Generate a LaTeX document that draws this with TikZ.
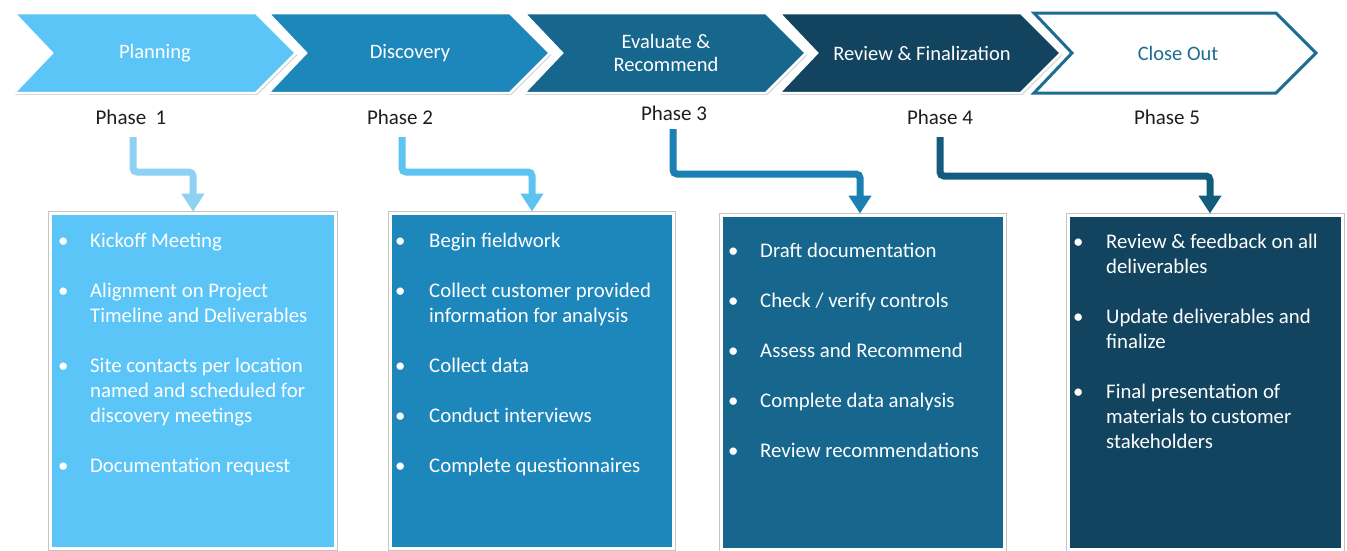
\documentclass[tikz,border=0pt]{standalone}
\usepackage{fontspec}
\setmainfont{Carlito}
\usetikzlibrary{arrows.meta}
\definecolor{c1}{HTML}{5BC5F8}
\definecolor{c2}{HTML}{1D87BC}
\definecolor{c3}{HTML}{16668D}
\definecolor{c4}{HTML}{124460}
\definecolor{c5}{HTML}{1E6C92}
\definecolor{a1}{HTML}{8ED2F3}
\definecolor{a2}{HTML}{5CC3F2}
\definecolor{a3}{HTML}{1A7FB3}
\definecolor{a4}{HTML}{145C7E}
\definecolor{ink}{HTML}{1E1E1E}
\definecolor{shade}{HTML}{C4C4C4}
\begin{document}
\begin{tikzpicture}[x=1pt,y=-1pt,
  chev/.style={draw=white, line width=2.5pt, line join=miter},
  chevshadow/.style={fill=shade, shift={(1.2,1.8)}},
  ctext/.style={text=white, font=\fontsize{20.5}{23}\selectfont, align=center, inner sep=0pt},
  phase/.style={text=ink, font=\fontsize{21}{24}\selectfont, inner sep=0pt},
  box/.style={draw=white, line width=3pt, minimum width=#1, inner sep=0pt,
    preaction={draw=shade, line width=5pt}},
  bullet/.style={text=white, font=\fontsize{20.8}{25}\selectfont, anchor=west, inner sep=0pt, text height=14.5pt, text depth=4.5pt},
  itemtxt/.style={text=white, font=\fontsize{20.8}{25}\selectfont, anchor=west, inner sep=0pt, text height=14.5pt, text depth=4.5pt},
  arr/.style={line width=7pt, rounded corners=4pt, -{Triangle[width=22pt,length=18pt]}}
]
\useasboundingbox[fill=white] (0,0) rectangle (1347,550);

% chevrons
\foreach \L/\col in {14/c1,268/c2,524/c3,779/c4}{
  \fill[chevshadow] (\L,13) -- ++(242,0) -- ++(40,40) -- ++(-40,40) -- ++(-242,0) -- ++(38,-40) -- cycle;
  \filldraw[chev, fill=\col] (\L,13) -- ++(242,0) -- ++(40,40) -- ++(-40,40) -- ++(-242,0) -- ++(38,-40) -- cycle;
}
\fill[chevshadow] (1034,13) -- ++(242,0) -- ++(40,40) -- ++(-40,40) -- ++(-242,0) -- ++(38,-40) -- cycle;
\filldraw[draw=white, line width=5pt, fill=white] (1034,13) -- ++(242,0) -- ++(40,40) -- ++(-40,40) -- ++(-242,0) -- ++(38,-40) -- cycle;
\draw[draw=c5, line width=3pt, line join=miter] (1034,13) -- ++(242,0) -- ++(40,40) -- ++(-40,40) -- ++(-242,0) -- ++(38,-40) -- cycle;

\node[ctext] (n1) at (155,53) {Planning};
\node[ctext] (n2) at (410,53) {Discovery};
\node[ctext] (n3) at (666,53) {Evaluate \&\\Recommend};
\node[ctext] (n4) at (922,53) {Review \& Finalization};
\node[ctext, text=c5] (n5) at (1178,53) {Close Out};

% phase labels
\node[phase] (p1) at (131,117) {Phase~~1};
\node[phase] (p2) at (400,117) {Phase 2};
\node[phase] (p3) at (674,113) {Phase 3};
\node[phase] (p4) at (940,117) {Phase 4};
\node[phase] (p5) at (1167,117) {Phase 5};

% boxes
\node[box=285pt, minimum height=335pt, fill=c1] (b1) at (192.5,380.5) {};
\node[box=283pt, minimum height=335pt, fill=c2] (b2) at (531.5,380.5) {};
\node[box=283pt, minimum height=334pt, fill=c3] (b3) at (862.5,382) {};
\node[box=274pt, minimum height=334pt, fill=c4] (b4) at (1205,382) {};

% arrows
\coordinate (s1) at (133,137);
\coordinate (k1) at (193,172);
\coordinate (s2) at (402,137);
\coordinate (k2) at (532,172);
\coordinate (s3) at (673,129);
\coordinate (k3) at (860,174);
\coordinate (s4) at (940,137);
\coordinate (k4) at (1210,176);
\draw[arr, draw=a1] (s1) |- (k1) -- (k1 |- b1.north);
\draw[arr, draw=a2] (s2) |- (k2) -- (k2 |- b2.north);
\draw[arr, draw=a3] (s3) |- (k3) -- (k3 |- b3.north);
\draw[arr, draw=a4] (s4) |- (k4) -- (k4 |- b4.north);

% box 1 text
\node[bullet] (u11) at (58,242) {\textbullet};
\node[itemtxt] (t11) at (90,242) {Kickoff Meeting};
\node[bullet] (u12) at (58,292) {\textbullet};
\node[itemtxt] (t12) at (90,292) {Alignment on Project};
\node[itemtxt] (t12b) at (90,317) {Timeline and Deliverables};
\node[bullet] (u13) at (58,367) {\textbullet};
\node[itemtxt] (t13) at (90,367) {Site contacts per location};
\node[itemtxt] (t13b) at (90,392) {named and scheduled for};
\node[itemtxt] (t13c) at (90,417) {discovery meetings};
\node[bullet] (u14) at (58,467) {\textbullet};
\node[itemtxt] (t14) at (90,467) {Documentation request};

% box 2 text
\node[bullet] (u21) at (395,242) {\textbullet};
\node[itemtxt] (t21) at (429,242) {Begin fieldwork};
\node[bullet] (u22) at (395,292) {\textbullet};
\node[itemtxt] (t22) at (429,292) {Collect customer provided};
\node[itemtxt] (t22b) at (429,317) {information for analysis};
\node[bullet] (u23) at (395,367) {\textbullet};
\node[itemtxt] (t23) at (429,367) {Collect data};
\node[bullet] (u24) at (395,417) {\textbullet};
\node[itemtxt] (t24) at (429,417) {Conduct interviews};
\node[bullet] (u25) at (395,467) {\textbullet};
\node[itemtxt] (t25) at (429,467) {Complete questionnaires};

% box 3 text
\node[bullet] (u31) at (728,252) {\textbullet};
\node[itemtxt] (t31) at (760,252) {Draft documentation};
\node[bullet] (u32) at (728,302) {\textbullet};
\node[itemtxt] (t32) at (760,302) {Check / verify controls};
\node[bullet] (u33) at (728,352) {\textbullet};
\node[itemtxt] (t33) at (760,352) {Assess and Recommend};
\node[bullet] (u34) at (728,402) {\textbullet};
\node[itemtxt] (t34) at (760,402) {Complete data analysis};
\node[bullet] (u35) at (728,452) {\textbullet};
\node[itemtxt] (t35) at (760,452) {Review recommendations};

% box 4 text
\node[bullet] (u41) at (1073,243) {\textbullet};
\node[itemtxt] (t41) at (1106,243) {Review \& feedback on all};
\node[itemtxt] (t41b) at (1106,268) {deliverables};
\node[bullet] (u42) at (1073,318) {\textbullet};
\node[itemtxt] (t42) at (1106,318) {Update deliverables and};
\node[itemtxt] (t42b) at (1106,343) {finalize};
\node[bullet] (u43) at (1073,393) {\textbullet};
\node[itemtxt] (t43) at (1106,393) {Final presentation of};
\node[itemtxt] (t43b) at (1106,418) {materials to customer};
\node[itemtxt] (t43c) at (1106,443) {stakeholders};
\end{tikzpicture}
\end{document}
